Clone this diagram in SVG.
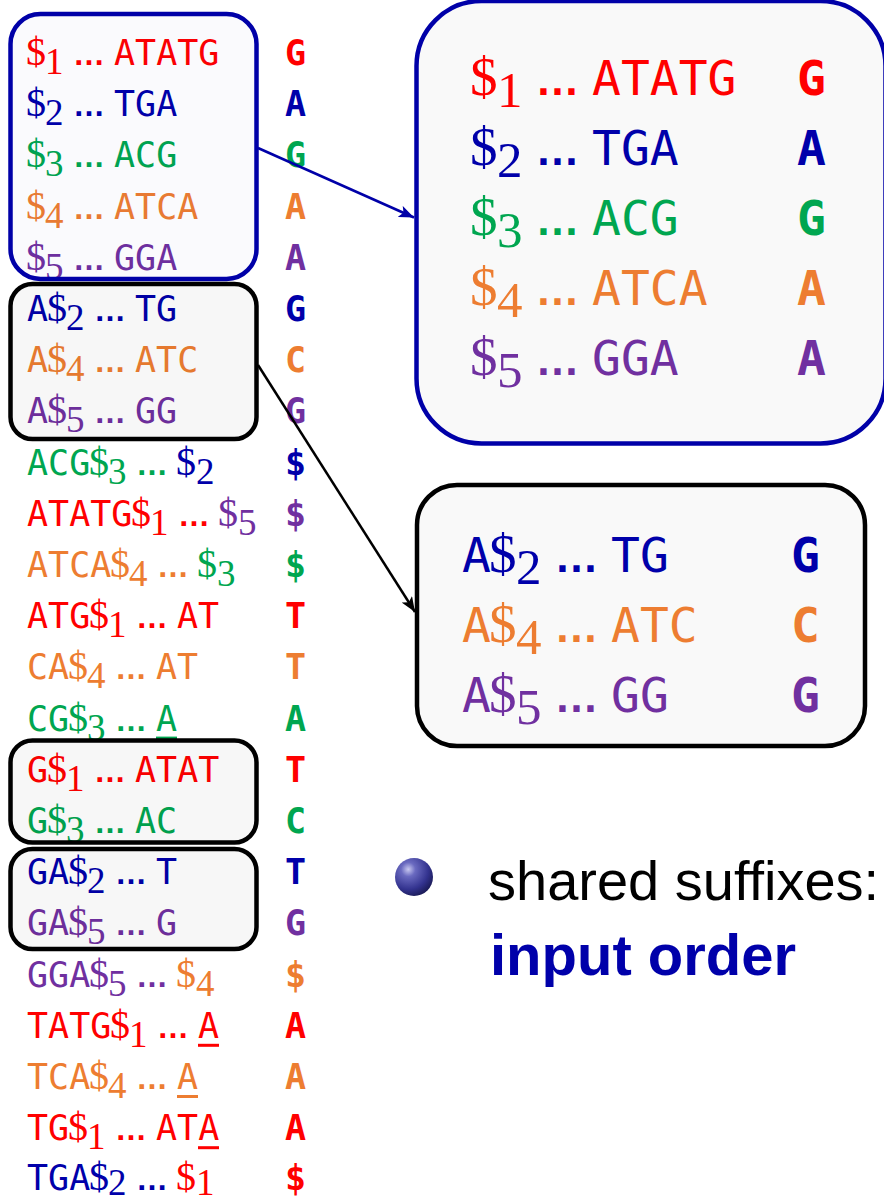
<svg xmlns="http://www.w3.org/2000/svg" width="884" height="1203" viewBox="0 0 884 1203">
  <style>
    .m  { font-family: "DejaVu Sans Mono", "Liberation Mono", monospace; font-size: 35px; }
    .s  { font-family: "Liberation Serif", "DejaVu Serif", serif; font-size: 37px; }
    .dl { font-family: "Liberation Serif", "DejaVu Serif", serif; font-size: 40px; }
    .dt { font-family: "Liberation Sans", "DejaVu Sans", sans-serif; font-size: 32px; font-weight: bold; }
    .b  { font-family: "DejaVu Sans Mono", "Liberation Mono", monospace; font-size: 35px; font-weight: bold; }
    .L .m  { font-size: 48px; }
    .L .s  { font-size: 51px; }
    .L .dl { font-size: 55px; }
    .L .dt { font-size: 44px; }
    .L .b  { font-size: 48px; }
    .red { fill: #FF0000; }
    .blu { fill: #0000AA; }
    .grn { fill: #00A650; }
    .org { fill: #ED7D31; }
    .pur { fill: #7030A0; }
    .box-k { fill: #000000; fill-opacity: 0.03; stroke: #000000; stroke-width: 4.5; }
    .box-b { fill: #0000A0; fill-opacity: 0.02; stroke: #0000A8; stroke-width: 4.5; }
    .big-k { fill: #F9F9F9; stroke: #000000; stroke-width: 4.5; }
    .big-b { fill: #F9F9F9; stroke: #0000A8; stroke-width: 4.5; }
    .edge { fill: none; stroke-width: 2.5; }
  </style>
  <defs>
    <marker id="head-blue" markerUnits="userSpaceOnUse" markerWidth="16" markerHeight="12" refX="15" refY="6" orient="auto">
      <path d="M0,0 L15,6 L0,12 L3.5,6 z" fill="#0000A8"/>
    </marker>
    <marker id="head-black" markerUnits="userSpaceOnUse" markerWidth="16" markerHeight="12" refX="15" refY="6" orient="auto">
      <path d="M0,0 L15,6 L0,12 L3.5,6 z" fill="#000000"/>
    </marker>
    <radialGradient id="ball" cx="0.35" cy="0.3" r="0.75">
      <stop offset="0" stop-color="#C8C8F0"/>
      <stop offset="0.25" stop-color="#6A6AC0"/>
      <stop offset="0.7" stop-color="#33338F"/>
      <stop offset="1" stop-color="#1A1A55"/>
    </radialGradient>
  </defs>

  <!-- sorted rotations: "prefix $k … tail" and the last column -->
  <g id="rotation-list">
    <text class="red" y="65"><tspan class="dl" x="26">$</tspan><tspan class="s" x="45" y="74">1</tspan><tspan class="dt" x="73" y="65">…</tspan><tspan class="m" x="114">ATATG</tspan></text>
    <text class="blu" y="116.2"><tspan class="dl" x="26">$</tspan><tspan class="s" x="45" y="125.2">2</tspan><tspan class="dt" x="73" y="116.2">…</tspan><tspan class="m" x="114">TGA</tspan></text>
    <text class="grn" y="167.4"><tspan class="dl" x="26">$</tspan><tspan class="s" x="45" y="176.4">3</tspan><tspan class="dt" x="73" y="167.4">…</tspan><tspan class="m" x="114">ACG</tspan></text>
    <text class="org" y="218.6"><tspan class="dl" x="26">$</tspan><tspan class="s" x="45" y="227.6">4</tspan><tspan class="dt" x="73" y="218.6">…</tspan><tspan class="m" x="114">ATCA</tspan></text>
    <text class="pur" y="269.8"><tspan class="dl" x="26">$</tspan><tspan class="s" x="45" y="278.8">5</tspan><tspan class="dt" x="73" y="269.8">…</tspan><tspan class="m" x="114">GGA</tspan></text>

    <text class="blu" y="321"><tspan class="m" x="27">A</tspan><tspan class="dl" x="47">$</tspan><tspan class="s" x="66" y="330">2</tspan><tspan class="dt" x="94" y="321">…</tspan><tspan class="m" x="135">TG</tspan></text>
    <text class="org" y="372.2"><tspan class="m" x="27">A</tspan><tspan class="dl" x="47">$</tspan><tspan class="s" x="66" y="381.2">4</tspan><tspan class="dt" x="94" y="372.2">…</tspan><tspan class="m" x="135">ATC</tspan></text>
    <text class="pur" y="423.4"><tspan class="m" x="27">A</tspan><tspan class="dl" x="47">$</tspan><tspan class="s" x="66" y="432.4">5</tspan><tspan class="dt" x="94" y="423.4">…</tspan><tspan class="m" x="135">GG</tspan></text>

    <text class="grn" y="474.6"><tspan class="m" x="27">ACG</tspan><tspan class="dl" x="89">$</tspan><tspan class="s" x="108" y="483.6">3</tspan><tspan class="dt" x="136" y="474.6">…</tspan><tspan class="dl blu" x="176">$</tspan><tspan class="s blu" x="196" y="483.6">2</tspan></text>
    <text class="red" y="525.8"><tspan class="m" x="27">ATATG</tspan><tspan class="dl" x="131">$</tspan><tspan class="s" x="150" y="534.8">1</tspan><tspan class="dt" x="178" y="525.8">…</tspan><tspan class="dl pur" x="218">$</tspan><tspan class="s pur" x="238" y="534.8">5</tspan></text>
    <text class="org" y="577"><tspan class="m" x="27">ATCA</tspan><tspan class="dl" x="110">$</tspan><tspan class="s" x="129" y="586">4</tspan><tspan class="dt" x="157" y="577">…</tspan><tspan class="dl grn" x="197">$</tspan><tspan class="s grn" x="217" y="586">3</tspan></text>
    <text class="red" y="628.2"><tspan class="m" x="27">ATG</tspan><tspan class="dl" x="89">$</tspan><tspan class="s" x="108" y="637.2">1</tspan><tspan class="dt" x="136" y="628.2">…</tspan><tspan class="m" x="177">AT</tspan></text>
    <text class="org" y="679.4"><tspan class="m" x="27">CA</tspan><tspan class="dl" x="68">$</tspan><tspan class="s" x="87" y="688.4">4</tspan><tspan class="dt" x="115" y="679.4">…</tspan><tspan class="m" x="156">AT</tspan></text>
    <text class="grn" y="730.6"><tspan class="m" x="27">CG</tspan><tspan class="dl" x="68">$</tspan><tspan class="s" x="87" y="739.6">3</tspan><tspan class="dt" x="115" y="730.6">…</tspan><tspan class="m" x="156">A</tspan></text>
    <text class="red" y="781.8"><tspan class="m" x="27">G</tspan><tspan class="dl" x="47">$</tspan><tspan class="s" x="66" y="790.8">1</tspan><tspan class="dt" x="94" y="781.8">…</tspan><tspan class="m" x="135">ATAT</tspan></text>
    <text class="grn" y="833"><tspan class="m" x="27">G</tspan><tspan class="dl" x="47">$</tspan><tspan class="s" x="66" y="842">3</tspan><tspan class="dt" x="94" y="833">…</tspan><tspan class="m" x="135">AC</tspan></text>
    <text class="blu" y="884.2"><tspan class="m" x="27">GA</tspan><tspan class="dl" x="68">$</tspan><tspan class="s" x="87" y="893.2">2</tspan><tspan class="dt" x="115" y="884.2">…</tspan><tspan class="m" x="156">T</tspan></text>
    <text class="pur" y="935.4"><tspan class="m" x="27">GA</tspan><tspan class="dl" x="68">$</tspan><tspan class="s" x="87" y="944.4">5</tspan><tspan class="dt" x="115" y="935.4">…</tspan><tspan class="m" x="156">G</tspan></text>
    <text class="pur" y="986.6"><tspan class="m" x="27">GGA</tspan><tspan class="dl" x="89">$</tspan><tspan class="s" x="108" y="995.6">5</tspan><tspan class="dt" x="136" y="986.6">…</tspan><tspan class="dl org" x="176">$</tspan><tspan class="s org" x="196" y="995.6">4</tspan></text>
    <text class="red" y="1037.8"><tspan class="m" x="27">TATG</tspan><tspan class="dl" x="110">$</tspan><tspan class="s" x="129" y="1046.8">1</tspan><tspan class="dt" x="157" y="1037.8">…</tspan><tspan class="m" x="198">A</tspan></text>
    <text class="org" y="1089"><tspan class="m" x="27">TCA</tspan><tspan class="dl" x="89">$</tspan><tspan class="s" x="108" y="1098">4</tspan><tspan class="dt" x="136" y="1089">…</tspan><tspan class="m" x="177">A</tspan></text>
    <text class="red" y="1140.2"><tspan class="m" x="27">TG</tspan><tspan class="dl" x="68">$</tspan><tspan class="s" x="87" y="1149.2">1</tspan><tspan class="dt" x="115" y="1140.2">…</tspan><tspan class="m" x="156">ATA</tspan></text>
    <text class="blu" y="1189.5"><tspan class="m" x="27">TGA</tspan><tspan class="dl" x="89">$</tspan><tspan class="s" x="108" y="1194.5">2</tspan><tspan class="dt" x="136" y="1189.5">…</tspan><tspan class="dl red" x="176">$</tspan><tspan class="s red" x="196" y="1194.5">1</tspan></text>

    <!-- underlined first characters -->
    <rect class="grn" x="156" y="736.6" width="21" height="3"/>
    <rect class="red" x="198" y="1043.8" width="21" height="3"/>
    <rect class="org" x="177" y="1095" width="21" height="3"/>
    <rect class="red" x="198" y="1146.2" width="21" height="3"/>

    <!-- last column -->
    <g class="b">
      <text class="red" x="285" y="65">G</text>
      <text class="blu" x="285" y="116.2">A</text>
      <text class="grn" x="285" y="167.4">G</text>
      <text class="org" x="285" y="218.6">A</text>
      <text class="pur" x="285" y="269.8">A</text>
      <text class="blu" x="285" y="321">G</text>
      <text class="org" x="285" y="372.2">C</text>
      <text class="pur" x="285" y="423.4">G</text>
      <text class="blu" x="285" y="474.6">$</text>
      <text class="pur" x="285" y="525.8">$</text>
      <text class="grn" x="285" y="577">$</text>
      <text class="red" x="285" y="628.2">T</text>
      <text class="org" x="285" y="679.4">T</text>
      <text class="grn" x="285" y="730.6">A</text>
      <text class="red" x="285" y="781.8">T</text>
      <text class="grn" x="285" y="833">C</text>
      <text class="blu" x="285" y="884.2">T</text>
      <text class="pur" x="285" y="935.4">G</text>
      <text class="org" x="285" y="986.6">$</text>
      <text class="red" x="285" y="1037.8">A</text>
      <text class="org" x="285" y="1089">A</text>
      <text class="red" x="285" y="1140.2">A</text>
      <text class="red" x="285" y="1189.5">$</text>
    </g>
  </g>

  <!-- highlighted groups in the list -->
  <g id="group-dollar"><rect class="box-b" x="10.5" y="14" width="246" height="265" rx="30"/></g>
  <g id="group-a"><rect class="box-k" x="10.5" y="284" width="246" height="155" rx="22"/></g>
  <g id="group-g"><rect class="box-k" x="10.5" y="740.5" width="246" height="102" rx="22"/></g>
  <g id="group-ga"><rect class="box-k" x="10.5" y="849" width="246" height="100" rx="22"/></g>

  <!-- enlarged view of the $ group -->
  <g id="detail-dollar" class="L">
    <rect class="big-b" x="416.5" y="1" width="469" height="442.5" rx="65"/>
    <text class="red" y="95"><tspan class="dl" x="470">$</tspan><tspan class="s" x="497" y="107.4">1</tspan><tspan class="dt" x="535.5" y="95">…</tspan><tspan class="m" x="592">ATATG</tspan></text>
    <text class="blu" y="165"><tspan class="dl" x="470">$</tspan><tspan class="s" x="497" y="177.4">2</tspan><tspan class="dt" x="535.5" y="165">…</tspan><tspan class="m" x="592">TGA</tspan></text>
    <text class="grn" y="235"><tspan class="dl" x="470">$</tspan><tspan class="s" x="497" y="247.4">3</tspan><tspan class="dt" x="535.5" y="235">…</tspan><tspan class="m" x="592">ACG</tspan></text>
    <text class="org" y="305"><tspan class="dl" x="470">$</tspan><tspan class="s" x="497" y="317.4">4</tspan><tspan class="dt" x="535.5" y="305">…</tspan><tspan class="m" x="592">ATCA</tspan></text>
    <text class="pur" y="375"><tspan class="dl" x="470">$</tspan><tspan class="s" x="497" y="387.4">5</tspan><tspan class="dt" x="535.5" y="375">…</tspan><tspan class="m" x="592">GGA</tspan></text>
    <g class="b">
      <text class="red" x="797" y="95">G</text>
      <text class="blu" x="797" y="165">A</text>
      <text class="grn" x="797" y="235">G</text>
      <text class="org" x="797" y="305">A</text>
      <text class="pur" x="797" y="375">A</text>
    </g>
  </g>

  <!-- enlarged view of the A group -->
  <g id="detail-a" class="L">
    <rect class="big-k" x="417" y="485" width="448" height="261" rx="40"/>
    <text class="blu" y="572"><tspan class="m" x="462">A</tspan><tspan class="dl" x="489">$</tspan><tspan class="s" x="516" y="584.4">2</tspan><tspan class="dt" x="554.5" y="572">…</tspan><tspan class="m" x="611">TG</tspan></text>
    <text class="org" y="642"><tspan class="m" x="462">A</tspan><tspan class="dl" x="489">$</tspan><tspan class="s" x="516" y="654.4">4</tspan><tspan class="dt" x="554.5" y="642">…</tspan><tspan class="m" x="611">ATC</tspan></text>
    <text class="pur" y="712"><tspan class="m" x="462">A</tspan><tspan class="dl" x="489">$</tspan><tspan class="s" x="516" y="724.4">5</tspan><tspan class="dt" x="554.5" y="712">…</tspan><tspan class="m" x="611">GG</tspan></text>
    <g class="b">
      <text class="blu" x="791" y="572">G</text>
      <text class="org" x="791" y="642">C</text>
      <text class="pur" x="791" y="712">G</text>
    </g>
  </g>

  <g id="connectors">
    <line class="edge" x1="258" y1="148" x2="414" y2="217.5" stroke="#0000A8" marker-end="url(#head-blue)"/>
    <line class="edge" x1="258" y1="365" x2="415" y2="612" stroke="#000000" marker-end="url(#head-black)"/>
  </g>

  <g id="bullet">
    <circle cx="414" cy="877" r="19" fill="url(#ball)"/>
    <text x="488" y="900" font-family="Liberation Sans, DejaVu Sans, sans-serif" font-size="56" fill="#000000">shared suffixes:</text>
    <text x="490" y="975" font-family="Liberation Sans, DejaVu Sans, sans-serif" font-size="58" font-weight="bold" fill="#0000AA">input order</text>
  </g>
</svg>
